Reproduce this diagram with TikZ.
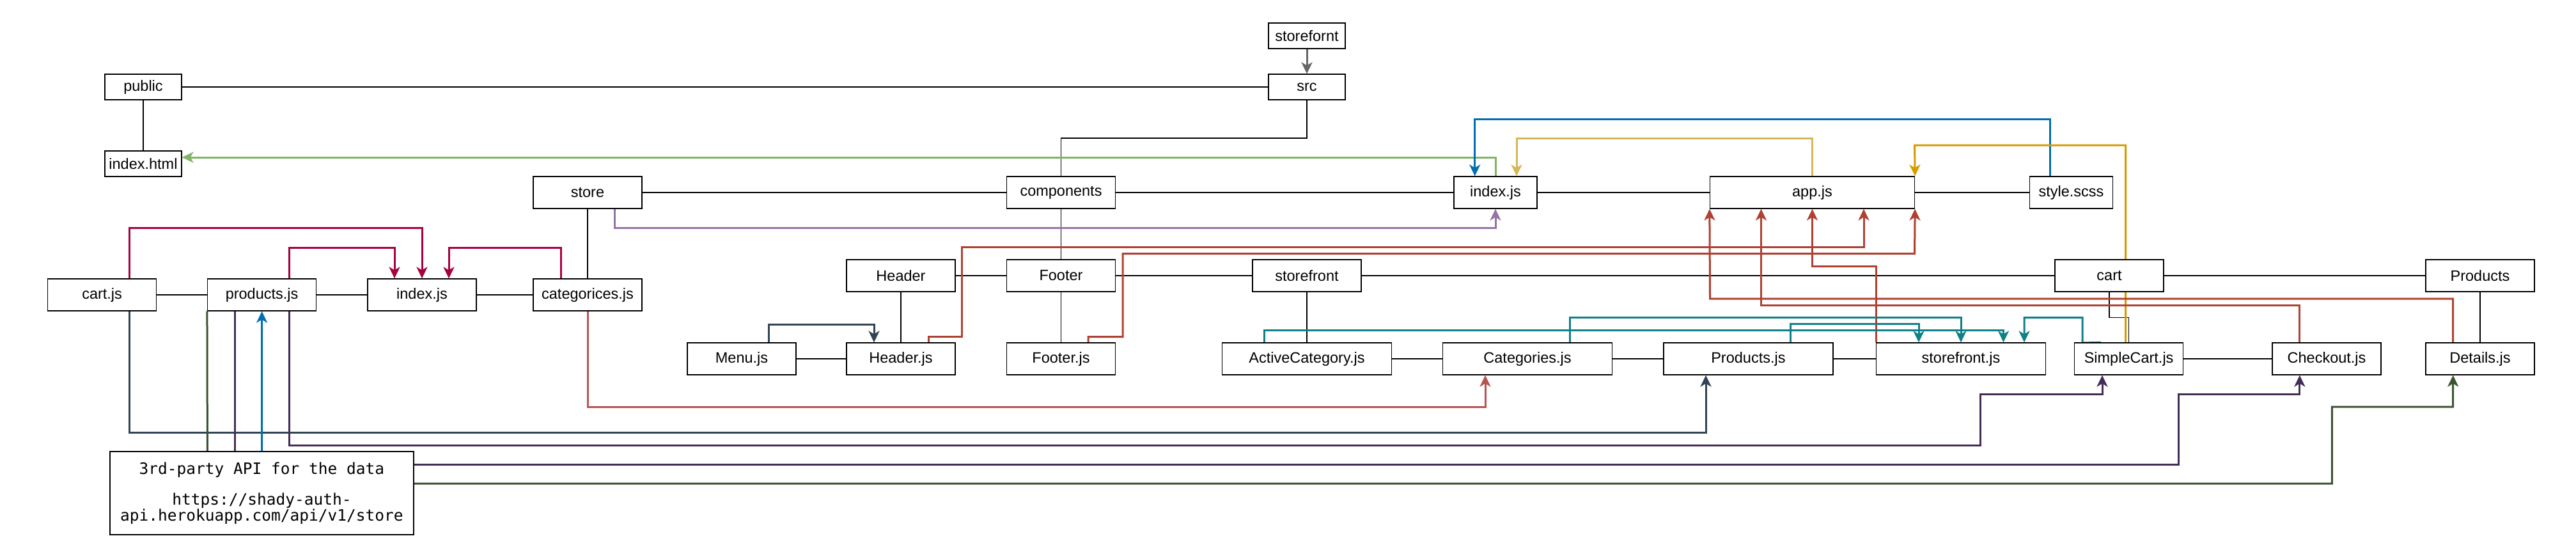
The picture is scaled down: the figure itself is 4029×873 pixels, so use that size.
\documentclass[tikz,border=0pt]{standalone}
\usepackage{fontspec}
\setmainfont{Liberation Sans}
\newfontfamily\apimono{DejaVu Sans Mono}
\usetikzlibrary{arrows.meta}
\pgfdeclarelayer{bg}
\pgfsetlayers{bg,main}
\definecolor{crim}{HTML}{A50040}
\definecolor{slate}{HTML}{314354}
\definecolor{lpurple}{HTML}{9673A6}
\definecolor{salmon}{HTML}{B85450}
\definecolor{brick}{HTML}{AE4132}
\definecolor{teal2}{HTML}{0E8088}
\definecolor{blue2}{HTML}{006EAF}
\definecolor{yellow2}{HTML}{D6B656}
\definecolor{orange2}{HTML}{D79B00}
\definecolor{lgreen}{HTML}{82B366}
\definecolor{dpurple}{HTML}{432D57}
\definecolor{dgreen}{HTML}{3A5431}
\definecolor{gray66}{HTML}{666666}
\tikzset{
  box/.style={draw=black, fill=white, line width=1.3pt, inner sep=0pt,
    minimum height=50pt, minimum width=170pt, font=\fontsize{23.5}{28}\selectfont},
  smallbox/.style={box, minimum width=120pt, minimum height=40pt},
  widebox/.style={box, minimum width=265pt},
  tree/.style={line width=1.3pt, draw=black},
  conn/.style={line width=3pt, -{Stealth[length=18pt,width=17pt,inset=5pt]}},
}
\begin{document}
\begin{tikzpicture}[x=1pt, y=-1pt]
\useasboundingbox (0,0) rectangle (4029,873);

% nodes
\node[smallbox] (public) at (224,136) {public};
\node[smallbox] (indexhtml) at (224,256) {index.html};
\node[smallbox] (storefornt) at (2044,56) {storefornt};
\node[smallbox] (src) at (2044,136) {src};

\node[box] (store) at (919,301) {store};
\node[box] (components) at (1659.5,301) {components};
\node[box, minimum width=130pt] (idx) at (2339,301) {index.js};
\node[box, minimum width=320pt] (app) at (2834.5,301) {app.js};
\node[box, minimum width=130pt] (style) at (3239.5,301) {style.scss};

\node[box] (header) at (1409,431) {Header};
\node[box] (footer) at (1659.5,431) {Footer};
\node[box] (storefront) at (2044,431) {storefront};
\node[box] (cart) at (3299,431) {cart};
\node[box] (productsdir) at (3879,431) {Products};

\node[box] (cartjs) at (159.6,461) {cart.js};
\node[box] (productsjs) at (409.6,461) {products.js};
\node[box] (idxL) at (660,461) {index.js};
\node[box] (categ) at (919,461) {categorices.js};

\node[box] (menu) at (1160,561) {Menu.js};
\node[box] (headerjs) at (1409,561) {Header.js};
\node[box] (footerjs) at (1659.5,561) {Footer.js};
\node[widebox] (active) at (2044,561) {ActiveCategory.js};
\node[widebox] (categories) at (2389,561) {Categories.js};
\node[widebox] (productsjsC) at (2734.4,561) {Products.js};
\node[widebox] (storefrontjs) at (3067,561) {storefront.js};
\node[box] (simplecart) at (3329.6,561) {SimpleCart.js};
\node[box] (checkout) at (3639,561) {Checkout.js};
\node[box] (details) at (3879,561) {Details.js};

\node[box, minimum width=475pt, minimum height=130pt, align=center,
  font=\apimono\fontsize{24.5}{23.5}\selectfont] (api) at (409.5,771)
  {3rd-party API for the data\\[23.5pt]https://shady-auth-\\api.herokuapp.com/api/v1/store};

\begin{pgfonlayer}{bg}
% tree lines
\draw[tree] (public.east) -- (src.west);
\draw[tree] (public) -- (indexhtml);
\draw[tree] (src.south) -- (2044,216) -- (1659.5,216) -- (components.north);
\draw[tree] (store) -- (components) -- (idx) -- (app) -- (style);
\draw[tree] (store) -- (categ);
\draw[tree] (cartjs) -- (productsjs) -- (idxL) -- (categ);
\draw[tree] (components) -- (footer);
\draw[tree] (header) -- (footer) -- (storefront) -- (cart) -- (productsdir);
\draw[tree] (header) -- (headerjs);
\draw[tree] (footer) -- (footerjs);
\draw[tree] (storefront) -- (active);
\draw[tree] (menu) -- (headerjs);
\draw[tree] (active) -- (categories) -- (productsjsC) -- (storefrontjs);
\draw[tree] (cart.south) -- (3299,496.6) -- (3329.6,496.6) -- (simplecart.north);
\draw[tree] (simplecart) -- (checkout);
\draw[tree] (productsdir) -- (details);

% coloured connectors
\draw[conn, gray66] (storefornt.south) -- (src.north);
\draw[conn, lgreen] (idx.north) -- (2339,246) -- ([yshift=10pt]indexhtml.east);
\draw[conn, blue2] ([xshift=-32.8pt]style.north) -- (3206.7,186) -- (2306.7,186) -- ([xshift=-32.3pt]idx.north);
\draw[conn, yellow2] (app.north) -- (2834.5,216) -- (2372,216) -- ([xshift=33pt]idx.north);
\draw[conn, orange2] ([xshift=-5pt]simplecart.north) -- (3324.6,227) -- (2994.5,227) -- (app.north east);
\draw[conn, lpurple] ([xshift=42pt]store.south) -- (961,356) -- (2339,356) -- (idx.south);

\draw[conn, crim] ([xshift=42.4pt]cartjs.north) -- (202,356) -- (660,356) -- (idxL.north);
\draw[conn, crim] ([xshift=42.4pt]productsjs.north) -- (452,387) -- (617,387) -- ([xshift=-43pt]idxL.north);
\draw[conn, crim] ([xshift=-42pt]categ.north) -- (877,387) -- (702,387) -- ([xshift=42pt]idxL.north);

\draw[conn, slate] ([xshift=42pt]menu.north) -- (1202,507) -- (1367,507) -- ([xshift=-42pt]headerjs.north);

\draw[conn, brick] ([xshift=43pt]headerjs.north) -- (1452,526.5) -- (1504.5,526.5) -- (1504.5,386.6) -- (2915,386.6) -- ([xshift=80.5pt]app.south);
\draw[conn, brick] ([xshift=42.5pt]footerjs.north) -- (1702,526.5) -- (1756,526.5) -- (1756,396.5) -- (2994.5,396.5) -- (app.south east);
\draw[conn, brick] ([xshift=-133pt]storefrontjs.north) -- (2934,416.6) -- (2834.5,416.6) -- (app.south);
\draw[conn, brick] ([xshift=-42.3pt]details.north) -- (3836.7,467) -- (2674.5,467) -- (app.south west);
\draw[conn, brick] ([xshift=-42.2pt]checkout.north) -- (3596.8,477) -- (2754.5,477) -- ([xshift=-80pt]app.south);

\draw[conn, salmon] (categ.south) -- (919,636) -- (2323,636) -- ([xshift=-66pt]categories.south);

\draw[conn, teal2] ([xshift=-66.5pt]active.north) -- (1977.5,516.3) -- (3133.5,516.3) -- ([xshift=66.5pt]storefrontjs.north);
\draw[conn, teal2] ([xshift=66.8pt]categories.north) -- (2455.8,496.6) -- (3067,496.6) -- (storefrontjs.north);
\draw[conn, teal2] ([xshift=65.6pt]productsjsC.north) -- (2800,506.4) -- (3001,506.4) -- ([xshift=-66pt]storefrontjs.north);
\draw[conn, teal2] ([xshift=-43.6pt]simplecart.north) -- (3257,536) -- (3257,496.6) -- (3166,496.6) -- ([xshift=99pt]storefrontjs.north);

\draw[conn, slate] ([xshift=42.4pt]cartjs.south) -- (202,676) -- (2668,676) -- ([xshift=-66.4pt]productsjsC.south);
\draw[conn, dpurple] ([xshift=42.4pt]productsjs.south) -- (452,696) -- (3097,696) -- (3097,616.4) -- (3288,616.4) -- ([xshift=-41.6pt]simplecart.south);
\draw[conn, dpurple] ([xshift=-42.6pt]productsjs.south) -- (367,726) -- (3407.5,726) -- (3407.5,616.4) -- (3596.8,616.4) -- ([xshift=-42.2pt]checkout.south);
\draw[conn, dgreen] (productsjs.south west) -- (324.5,756) -- (3647.4,756) -- (3647.4,636.2) -- (3836.7,636.2) -- ([xshift=-42.3pt]details.south);
\draw[conn, blue2] (api.north) -- (productsjs.south);
\end{pgfonlayer}
\end{tikzpicture}
\end{document}
